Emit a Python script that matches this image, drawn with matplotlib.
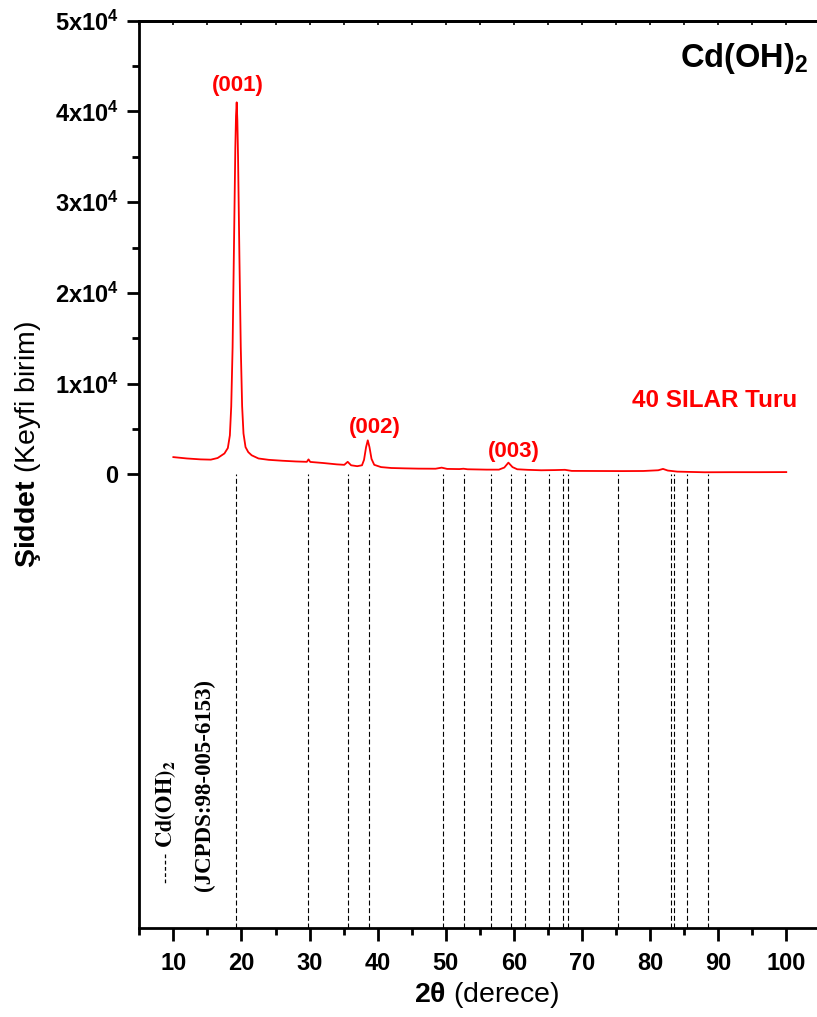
import numpy as np
import matplotlib.pyplot as plt

plt.rcParams['font.family'] = 'Liberation Sans'
plt.rcParams['mathtext.fontset'] = 'custom'
plt.rcParams['mathtext.rm'] = 'Liberation Sans'
plt.rcParams['mathtext.bf'] = 'Liberation Sans:bold'
plt.rcParams['mathtext.it'] = 'Liberation Sans:italic'

# XRD pattern, 40 SILAR cycles
two_theta = [10.0, 12.0, 14.0, 15.5, 16.5, 17.0, 17.5, 18.0, 18.3, 18.5,
             18.7, 18.9, 19.1, 19.2, 19.3, 19.4, 19.5, 19.7, 19.9, 20.1,
             20.3, 20.6, 21.0, 21.5, 22.5, 24.0, 26.0, 28.0, 29.6, 29.85,
             30.1, 32.0, 34.0, 35.1, 35.6, 36.1, 37.0, 37.7, 38.0, 38.3,
             38.55, 38.8, 39.1, 39.5, 40.5, 42.0, 44.0, 46.0, 48.5, 49.4,
             50.2, 52.0, 52.6, 53.2, 56.0, 57.8, 58.6, 59.2, 59.8, 60.5,
             62.0, 64.0, 66.0, 67.5, 68.5, 72.0, 76.0, 79.0, 81.2, 81.9,
             82.6, 84.0, 88.0, 92.0, 96.0, 100.0]
intensity = [1900, 1750, 1650, 1620, 1800, 2050, 2300, 2900, 4300, 7500,
             14000, 25000, 36000, 39500, 41000, 39000, 35000, 24000, 14000, 7500,
             4500, 3000, 2450, 2100, 1750, 1600, 1500, 1420, 1380, 1650,
             1370, 1250, 1100, 1050, 1380, 1000, 900, 1000, 1600, 3000,
             3750, 3000, 1700, 1050, 800, 700, 660, 630, 620, 740,
             600, 580, 620, 560, 520, 520, 750, 1290, 800, 560,
             500, 450, 470, 500, 380, 370, 360, 370, 450, 600,
             420, 300, 230, 240, 240, 250]

# JCPDS 98-005-6153 reference positions
ref_peaks = [19.16, 29.73, 35.60, 38.73, 49.55, 52.70, 56.60, 59.63, 61.68,
             65.21, 67.26, 68.00, 75.25, 83.03, 83.52, 85.38, 88.51]

hkl_labels = ['(001)', '(002)', '(003)']
hkl_x = [19.4, 39.6, 60.0]
hkl_y = [42900, 5180, 2540]

yticks = [0, 10000, 20000, 30000, 40000, 50000]
ytick_labels = ['0'] + [r'$\mathbf{%dx10^{4}}$' % k for k in range(1, 6)]
xticks = list(range(10, 101, 10))

W, H = 817, 1017
fig = plt.figure(figsize=(W / 100, H / 100), dpi=100)
ax = fig.add_axes([139.3 / W, (H - 928) / H, 681 / W, 907.3 / H])

ax.plot(two_theta, intensity, color='#ff0000', lw=1.3, zorder=3)
ax.vlines(ref_peaks, -50000, 0, colors='black', lw=0.8,
          linestyles=(0, (4.5, 2.4)), zorder=2)

for lab, x, y in zip(hkl_labels, hkl_x, hkl_y):
    ax.text(x, y, lab, color='#ff0000', fontsize=16, fontweight='bold',
            ha='center', va='center')
ax.text(89.5, 8160, '40 SILAR Turu', color='#ff0000', fontsize=17.5,
        fontweight='bold', ha='center', va='center')

# rotated legend for the reference card
ax.plot([8.77, 8.77], [-41800, -45100], color='black', lw=0.9,
        linestyle=(0, (3, 2)))
ax.text(8.8, -41140, r'$\mathbf{Cd(OH)_2}$', math_fontfamily='stix',
        fontsize=16, rotation=90, ha='center', va='bottom')
ax.text(14.6, -45890, '(JCPDS:98-005-6153)', family='Liberation Serif',
        fontweight='bold', fontsize=16.5, rotation=90, ha='center',
        va='bottom')

ax.set_xlim(5, 105)
ax.set_ylim(-50000, 50000)
ax.set_xticks(xticks)
ax.set_xticks(np.arange(5, 106, 10), minor=True)
ax.set_xticklabels([str(t) for t in xticks], fontweight='bold', fontsize=17)
ax.set_yticks(yticks)
ax.set_yticks(np.arange(5000, 50000, 10000), minor=True)
ax.set_yticklabels(ytick_labels, fontweight='bold', fontsize=17)

ax.tick_params(which='major', direction='out', length=9, width=2)
ax.tick_params(which='minor', direction='out', length=5, width=2)
ax.tick_params(axis='x', pad=8)
ax.tick_params(axis='y', pad=6)

for s in ax.spines.values():
    s.set_linewidth(2)

top = ax.secondary_xaxis('top')
top.set_xticks(np.arange(5, 106, 5))
top.tick_params(direction='in', length=3, width=1.2, labeltop=False)
top.spines['top'].set_linewidth(2)

fig.text(28 / W, 1 - 444 / H, r'$\mathbf{Şiddet}$ (Keyfi birim)',
         rotation=90, fontsize=20.5, ha='center', va='center')
fig.text(487 / W, 1 - 995 / H, r'$\mathbf{2θ}$ (derece)',
         fontsize=20.5, ha='center', va='center')
fig.text(680 / W, 1 - 67 / H, r'$\mathbf{Cd(OH)_2}$', fontsize=23.5,
         ha='left', va='baseline')

fig.savefig('out.png', dpi=100)
